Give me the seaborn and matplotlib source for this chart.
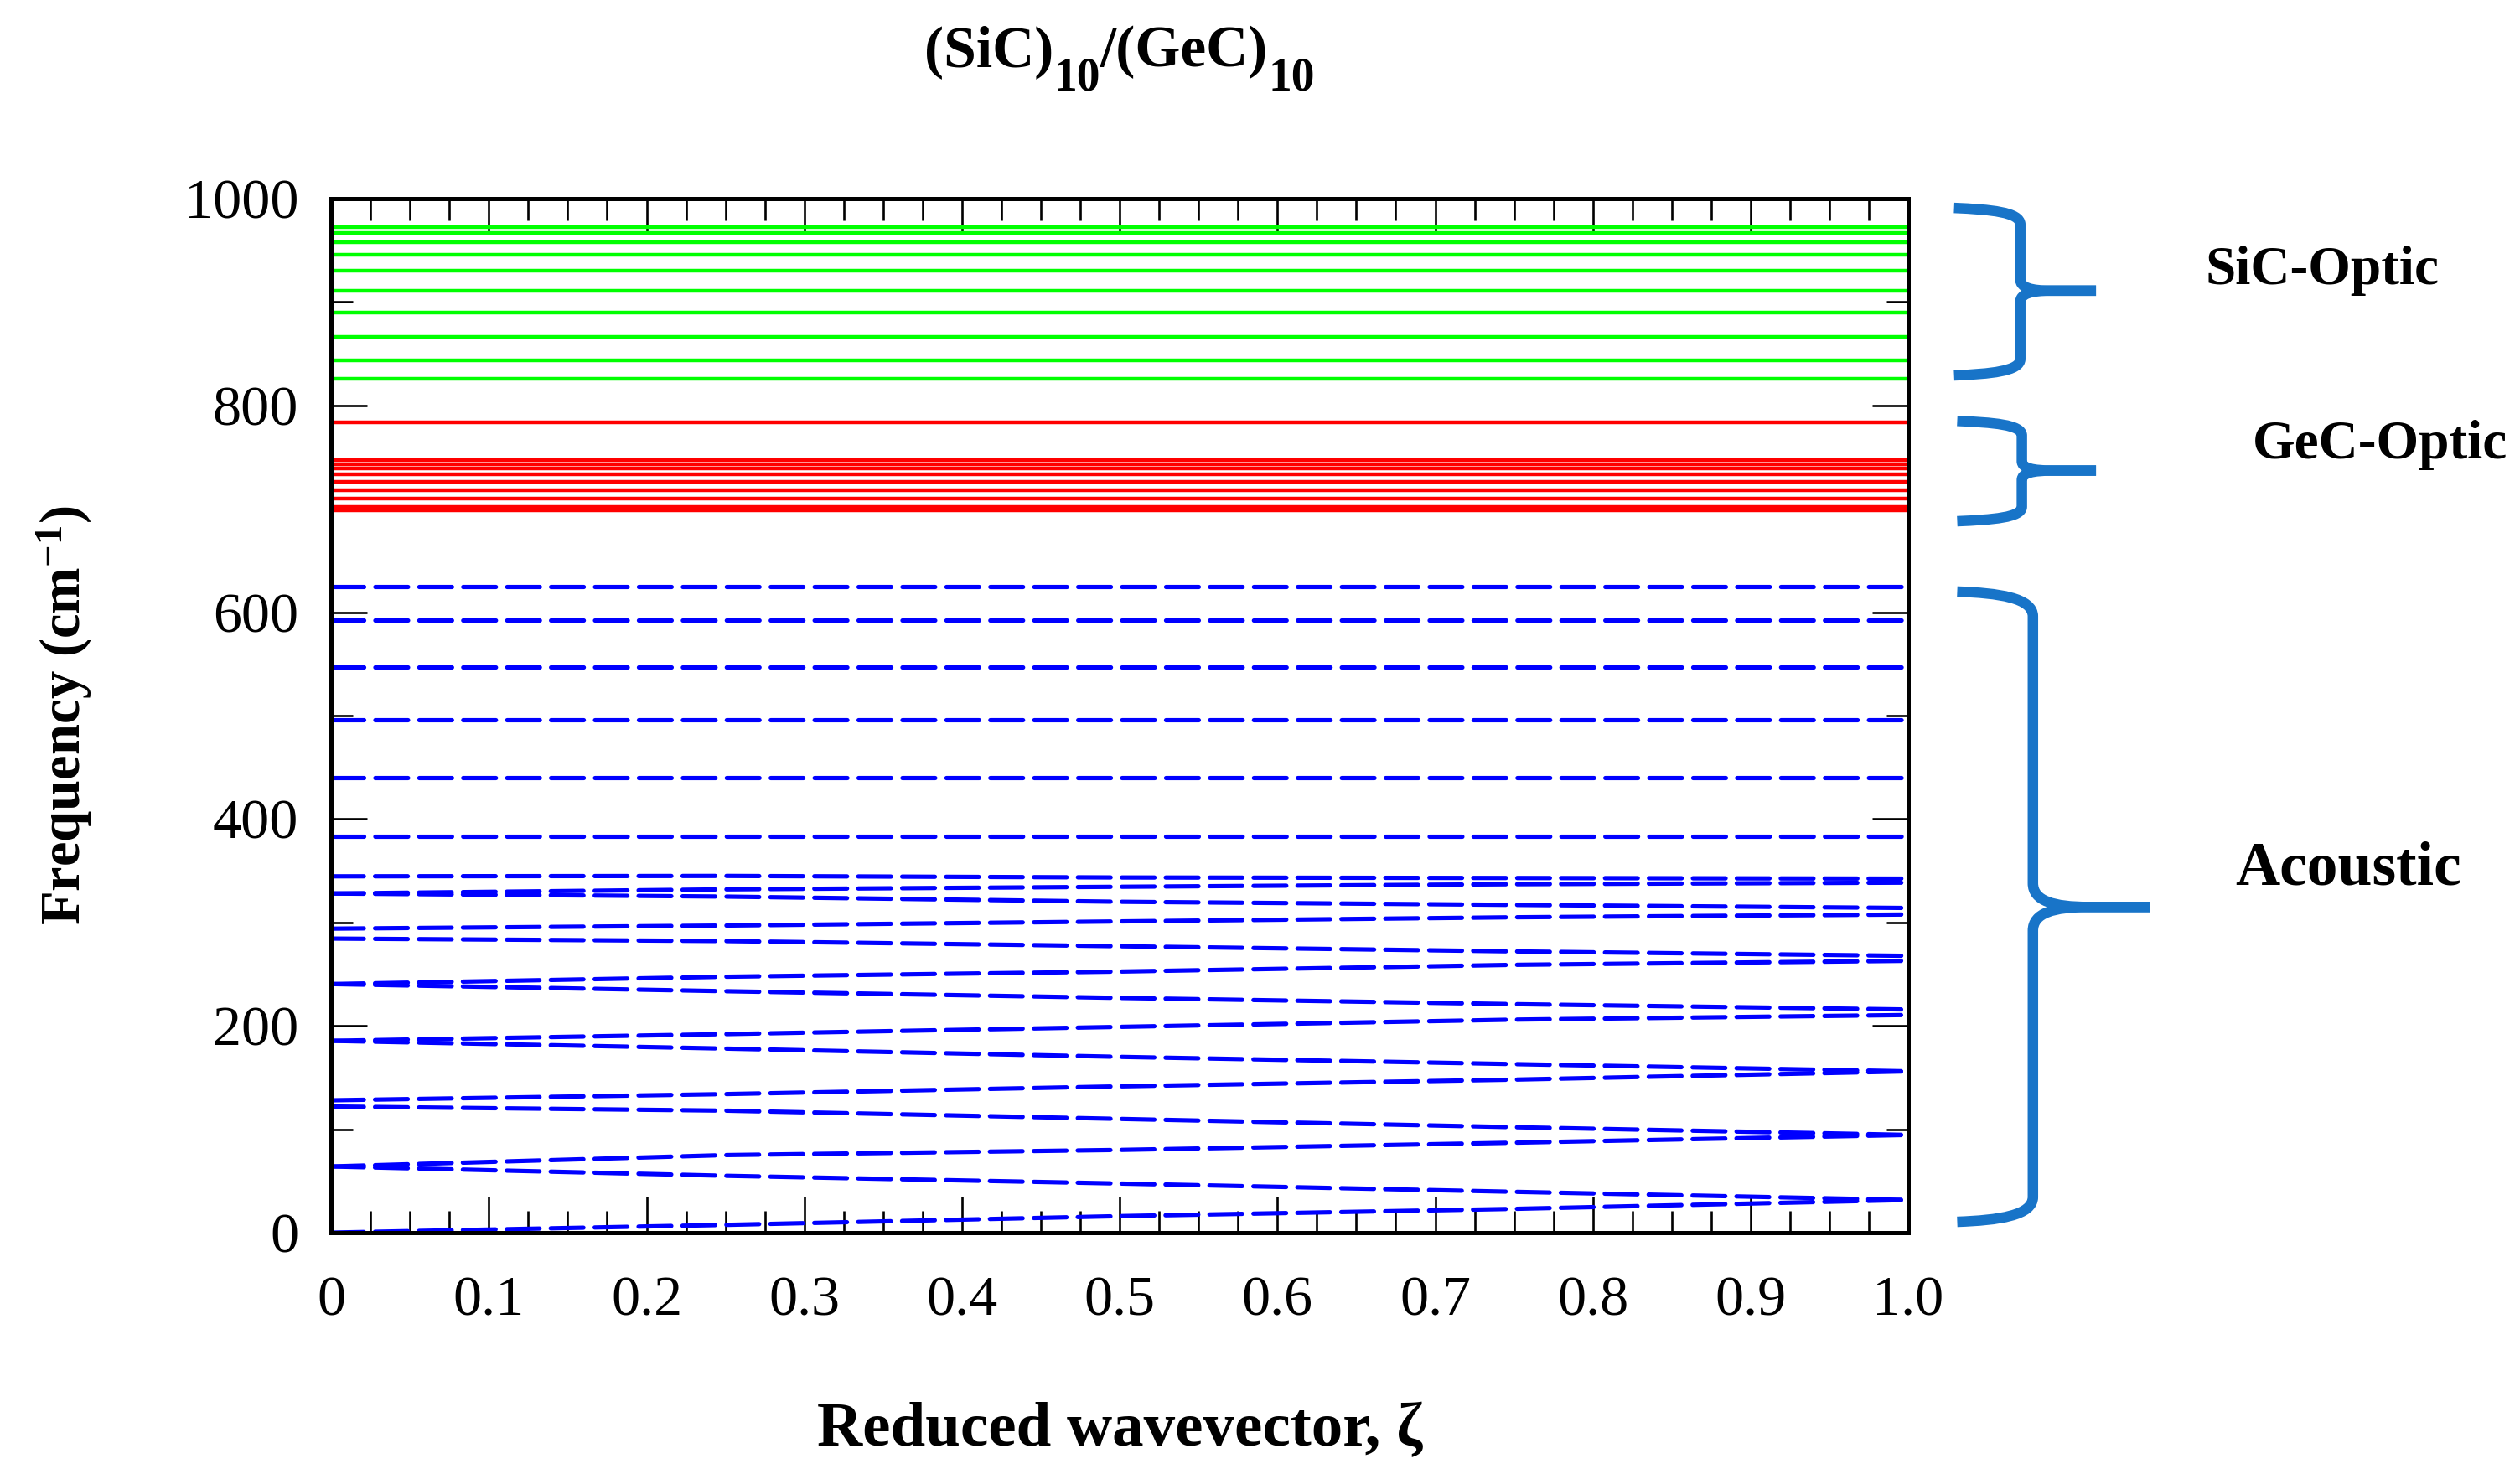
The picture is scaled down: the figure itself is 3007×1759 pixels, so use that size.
import numpy as np
import pandas as pd
import matplotlib
matplotlib.use('Agg')
import matplotlib.pyplot as plt
import matplotlib.transforms as mtransforms
from matplotlib.path import Path
from matplotlib.patches import PathPatch
from matplotlib.ticker import MultipleLocator, FixedLocator, FixedFormatter
import seaborn as sns

# ---------------- data ----------------
zeta = [0.0, 0.25, 0.5, 0.75, 1.0]

# dispersive (folded) acoustic branches, cm^-1 at the zeta values above
acoustic_disp = [
    [0.0, 7.5, 16.0, 23.0, 31.6],
    [64.0, 55.0, 47.5, 39.5, 31.6],
    [64.0, 75.0, 80.0, 87.0, 94.5],
    [122.0, 118.0, 110.0, 102.0, 94.5],
    [128.0, 134.0, 141.5, 148.0, 156.0],
    [185.5, 178.0, 170.0, 163.0, 156.0],
    [185.5, 192.0, 199.0, 206.0, 210.5],
    [240.4, 233.5, 227.0, 221.0, 215.8],
    [240.4, 247.5, 252.5, 259.0, 262.9],
    [284.4, 282.0, 277.0, 272.0, 267.7],
    [294.0, 297.0, 301.0, 305.0, 307.7],
    [328.0, 325.0, 320.0, 317.0, 314.0],
    [328.0, 332.0, 334.5, 337.0, 338.5],
    [344.6, 345.0, 343.5, 343.0, 342.4],
]
# flat (confined) acoustic modes
acoustic_flat = [383.0, 440.0, 496.0, 547.0, 592.5, 625.0]
# optic modes (flat)
gec_optic = [698.5, 702.0, 709.5, 718.0, 726.0, 733.0, 739.0, 743.0, 747.0, 784.0]
sic_optic = [826.0, 843.5, 866.0, 889.5, 911.0, 930.0, 946.0, 958.0, 967.0, 972.5]

x_ticks = [0, 0.1, 0.2, 0.3, 0.4, 0.5, 0.6, 0.7, 0.8, 0.9, 1.0]
x_ticklabels = ['0', '0.1', '0.2', '0.3', '0.4', '0.5', '0.6', '0.7', '0.8', '0.9', '1.0']
y_ticks = [0, 200, 400, 600, 800, 1000]
y_ticklabels = ['0', '200', '400', '600', '800', '1000']

# ---------------- long tables for seaborn ----------------
rows = []
for i, f in enumerate(acoustic_disp):
    for z, v in zip(zeta, f):
        rows.append(('ac%d' % i, z, v))
for j, v in enumerate(acoustic_flat):
    for z in zeta:
        rows.append(('acf%d' % j, z, v))
df_ac = pd.DataFrame(rows, columns=['mode', 'zeta', 'freq'])

def flat_table(vals, name):
    r = []
    for k, v in enumerate(vals):
        for z in (zeta[0], zeta[-1]):
            r.append(('%s%d' % (name, k), z, v))
    return pd.DataFrame(r, columns=['mode', 'zeta', 'freq'])

df_gec = flat_table(gec_optic, 'gec')
df_sic = flat_table(sic_optic, 'sic')

# ---------------- style ----------------
sns.set_style('ticks')
plt.rcParams['font.family'] = ['Liberation Serif', 'DejaVu Serif']
plt.rcParams['mathtext.fontset'] = 'custom'
plt.rcParams['mathtext.rm'] = 'Liberation Serif'
plt.rcParams['mathtext.bf'] = 'Liberation Serif:bold'
plt.rcParams['mathtext.it'] = 'Liberation Serif:italic'
plt.rcParams['text.color'] = 'black'
plt.rcParams['axes.labelcolor'] = 'black'

fig = plt.figure(figsize=(30.07, 17.59), dpi=100)
ax = fig.add_axes([0.1314, 0.16373, 0.62587, 0.70153])

sns.lineplot(data=df_sic, x='zeta', y='freq', units='mode', estimator=None,
             color='#00ff00', lw=3.2, ax=ax, legend=False)
sns.lineplot(data=df_gec, x='zeta', y='freq', units='mode', estimator=None,
             color='#ff0000', lw=3.2, ax=ax, legend=False)
n_before = len(ax.lines)
sns.lineplot(data=df_ac, x='zeta', y='freq', units='mode', estimator=None,
             color='#0000ff', lw=3.7, ax=ax, legend=False)
for ln in ax.lines[n_before:]:
    ln.set_linestyle((0, (7.6, 2.6)))
    ln.set_dash_capstyle('round')

ax.set_xlim(0, 1)
ax.set_ylim(0, 1000)
ax.xaxis.set_major_locator(FixedLocator(x_ticks))
ax.xaxis.set_major_formatter(FixedFormatter(x_ticklabels))
ax.xaxis.set_minor_locator(MultipleLocator(0.025))
ax.yaxis.set_major_locator(FixedLocator(y_ticks))
ax.yaxis.set_major_formatter(FixedFormatter(y_ticklabels))
ax.yaxis.set_minor_locator(MultipleLocator(100))

for s in ax.spines.values():
    s.set_linewidth(3.6)
    s.set_color('black')
ax.tick_params(which='both', direction='in', top=True, right=True, colors='black')
ax.tick_params(which='major', length=31, width=1.9)
ax.tick_params(which='minor', length=19, width=1.9)
ax.tick_params(axis='x', which='major', labelsize=49, pad=37)
ax.tick_params(axis='y', which='major', labelsize=49, pad=28)

ax.set_xlabel('Reduced wavevector, ζ', fontsize=54, fontweight='bold')
ax.xaxis.set_label_coords(0.5, -0.191)
ax.xaxis.label.set_verticalalignment('center')
ax.set_ylabel('Frequency (cm$^{\\mathbf{-1}}$)', fontsize=48, fontweight='bold')
ax.yaxis.set_label_coords(-0.169, 0.5)
ax.yaxis.label.set_verticalalignment('center')

# title built from pieces so the subscripts can be large and low, as in the original
W, H = fig.get_size_inches() * fig.dpi
title_parts = [('(SiC)', 50, 79), ('10', 40, 107), ('/(GeC)', 50, 79), ('10', 40, 107)]
renderer = fig.canvas.get_renderer()
pieces = []
for txt, size, base in title_parts:
    t = fig.text(0, 1 - base / H, txt, fontsize=size, fontweight='bold',
                 ha='left', va='baseline')
    pieces.append(t)
widths = [p.get_window_extent(renderer).width for p in pieces]
x0 = (0.1314 + 0.62587 / 2) * W - sum(widths) / 2
for p, w in zip(pieces, widths):
    p.set_x(x0 / W)
    x0 += w

# ---------------- curly braces + group labels ----------------
trans = mtransforms.blended_transform_factory(ax.transAxes, ax.transData)
brace_color = '#1874c8'


def draw_brace(x_end, x_vert, x_tip, y_top, y_bot, y_mid, ry, rym, rx):
    for y0, s in ((y_top, -1), (y_bot, 1)):
        verts = [(x_end, y0),
                 (x_end + 0.55 * (x_vert - x_end), y0 + s * 1.5),
                 (x_vert, y0 + s * ry * 0.25),
                 (x_vert, y0 + s * ry),
                 (x_vert, y_mid - s * rym),
                 (x_vert, y_mid - s * rym * 0.25),
                 (x_vert + rx * 0.6, y_mid),
                 (x_vert + rx * 1.6, y_mid),
                 (x_tip, y_mid)]
        codes = [Path.MOVETO, Path.CURVE4, Path.CURVE4, Path.CURVE4,
                 Path.LINETO, Path.CURVE4, Path.CURVE4, Path.CURVE4,
                 Path.LINETO]
        patch = PathPatch(Path(verts, codes), transform=trans, fill=False,
                          edgecolor=brace_color, lw=9, capstyle='butt',
                          joinstyle='round', clip_on=False)
        ax.add_patch(patch)


draw_brace(1.029, 1.071, 1.119, 991, 829, 911, 16, 11, 0.012)
draw_brace(1.031, 1.072, 1.119, 785, 688, 737, 14, 9, 0.012)
draw_brace(1.031, 1.079, 1.153, 620, 10.5, 315, 24, 23, 0.022)

ax.text(1.2625, 917, 'SiC-Optic', transform=trans, ha='center', va='baseline',
        fontsize=47, fontweight='bold', clip_on=False)
ax.text(1.299, 749, 'GeC-Optic', transform=trans, ha='center', va='baseline',
        fontsize=47, fontweight='bold', clip_on=False)
ax.text(1.279, 337, 'Acoustic', transform=trans, ha='center', va='baseline',
        fontsize=53, fontweight='bold', clip_on=False)

fig.savefig('out.png', dpi=100, facecolor='white')
